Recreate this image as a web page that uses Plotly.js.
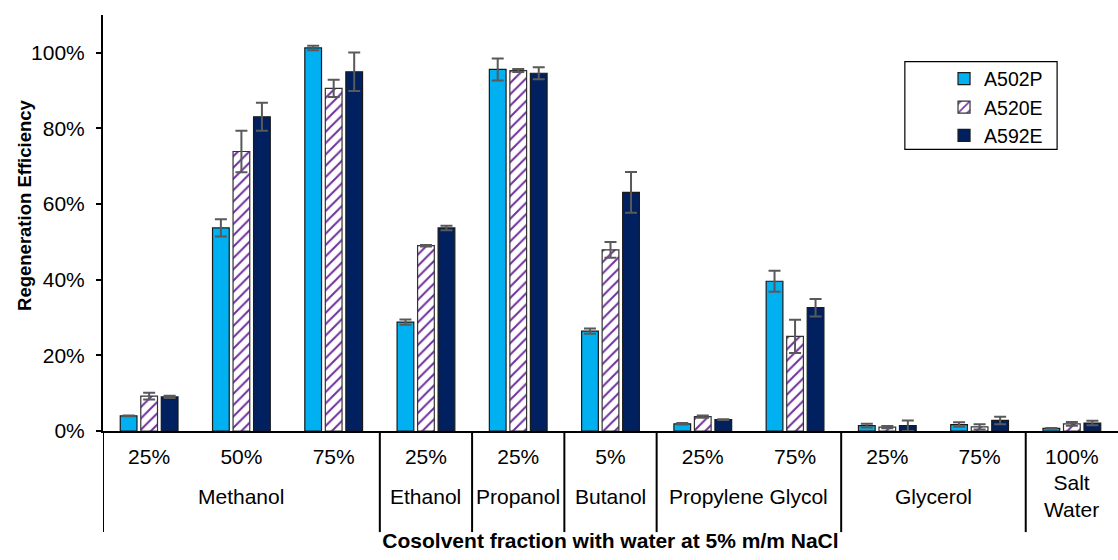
<!DOCTYPE html>
<html>
<head>
<meta charset="utf-8">
<script src="https://cdn.plot.ly/plotly-3.0.1.min.js"></script>
<style>
  html, body { margin: 0; padding: 0; background: #fff; }
  #chart { width: 1118px; height: 560px; }
</style>
</head>
<body>
<div id="chart"></div>
<script>
// Cosolvent and its fraction for each category on the x axis
const solvent = ['Methanol', 'Methanol', 'Methanol', 'Ethanol', 'Propanol', 'Butanol',
                 'Propylene Glycol', 'Propylene Glycol', 'Glycerol', 'Glycerol', 'Salt Water'];
const fraction = ['25%', '50%', '75%', '25%', '25%', '5%', '25%', '75%', '25%', '75%', '100%'];

// Regeneration efficiency (%) and error bar half-widths per resin
const seriesNames = ['A502P', 'A520E', 'A592E'];
const A502P     = [4.0, 53.7, 101.3, 28.8, 95.6, 26.4, 1.9, 39.6, 1.4, 1.7, 0.7];
const A502P_err = [0.1, 2.3, 0.6, 0.7, 2.9, 0.7, 0.2, 2.8, 0.5, 0.6, 0.1];
const A520E     = [9.2, 73.9, 90.6, 49.0, 95.3, 47.9, 3.8, 25.0, 1.0, 1.1, 1.9];
const A520E_err = [0.9, 5.5, 2.3, 0.2, 0.4, 2.1, 0.3, 4.4, 0.3, 0.7, 0.5];
const A592E     = [9.0, 83.1, 95.0, 53.7, 94.6, 63.1, 3.0, 32.6, 1.4, 2.8, 2.1];
const A592E_err = [0.3, 3.7, 5.1, 0.6, 1.6, 5.4, 0.1, 2.3, 1.4, 1.0, 0.6];

const yTitle = 'Regeneration Efficiency';
const xTitle = 'Cosolvent fraction with water at 5% m/m NaCl';

const FONT = 'Liberation Sans, Arial, sans-serif';
const keys = solvent.map((s, i) => s + ' ' + fraction[i]);

const errStyle = arr => ({
  type: 'data', array: arr, visible: true,
  color: '#595959', thickness: 2, width: 6
});
const outline = { color: '#1a1a1a', width: 1.2 };

const traces = [
  {
    type: 'bar', name: seriesNames[0], x: keys, y: A502P, legendgroup: 'a',
    marker: { color: '#00B0F0', line: outline },
    error_y: errStyle(A502P_err)
  },
  {
    type: 'bar', name: seriesNames[1], x: keys, y: A520E, legendgroup: 'b',
    marker: {
      color: '#ffffff', line: { color: '#333333', width: 1.2 },
      pattern: { shape: '/', fgcolor: '#7030A0', bgcolor: '#ffffff', size: 8, solidity: 0.25 }
    },
    error_y: errStyle(A520E_err)
  },
  {
    type: 'bar', name: seriesNames[2], x: keys, y: A592E, legendgroup: 'c',
    marker: { color: '#002060', line: outline },
    error_y: errStyle(A592E_err)
  }
];

// Group labels under the fractions, and divider lines between groups
const annotations = [];
const shapes = [];
let start = 0;
for (let i = 1; i <= solvent.length; i++) {
  if (i === solvent.length || solvent[i] !== solvent[start]) {
    const label = solvent[start] === 'Salt Water' ? 'Salt<br>Water' : solvent[start];
    annotations.push({
      xref: 'x', yref: 'paper', x: (start + i - 1) / 2, y: -0.157,
      xanchor: 'center', yanchor: 'middle', showarrow: false,
      text: label, font: { family: FONT, size: 21, color: '#000' }
    });
    shapes.push({
      type: 'line', xref: 'x', yref: 'paper', x0: start - 0.5, x1: start - 0.5,
      y0: 0, y1: -0.243, line: { color: '#000', width: 2 }
    });
    start = i;
  }
}
// Value-axis title, set beside the tick labels
annotations.push({
  xref: 'paper', yref: 'paper', x: -0.078, y: 0.543, textangle: -90,
  xanchor: 'center', yanchor: 'middle', showarrow: false,
  text: yTitle, font: { family: FONT, size: 18.5, color: '#000', weight: 'bold' }
});
// Legend frame
shapes.push({
  type: 'rect', xref: 'paper', yref: 'paper', x0: 0.790, x1: 0.940, y0: 0.677, y1: 0.888,
  line: { color: '#000', width: 1.2 }, fillcolor: 'rgba(0,0,0,0)'
});

const layout = {
  width: 1118, height: 560,
  margin: { l: 103, r: 0, t: 15, b: 129, pad: 0 },
  paper_bgcolor: '#fff', plot_bgcolor: '#fff',
  font: { family: FONT, size: 21, color: '#000' },
  barmode: 'group', bargap: 0.333, bargroupgap: 0.185,
  showlegend: true,
  legend: {
    x: 0.8286, y: 0.893, xanchor: 'left', yanchor: 'top',
    bgcolor: 'rgba(0,0,0,0)', borderwidth: 0,
    traceorder: 'grouped', tracegroupgap: 0,
    font: { family: FONT, size: 19.5, color: '#000' }
  },
  xaxis: {
    type: 'category', range: [-0.5, solvent.length - 0.5],
    tickmode: 'array', tickvals: keys, ticktext: fraction,
    ticks: '', showline: true, linecolor: '#000', linewidth: 2,
    showgrid: false, zeroline: false, ticklabelstandoff: 6,
    tickfont: { family: FONT, size: 21, color: '#000' },
    title: {
      text: xTitle,
      font: { family: FONT, size: 21, color: '#000', weight: 'bold' },
      standoff: 66
    },
    automargin: false
  },
  yaxis: {
    range: [0, 110], tick0: 0, dtick: 20, ticksuffix: '%',
    ticks: 'outside', ticklen: 5, tickwidth: 2, tickcolor: '#000',
    showline: true, linecolor: '#000', linewidth: 2,
    showgrid: false, zeroline: false, ticklabelstandoff: 7,
    tickfont: { family: FONT, size: 21, color: '#000' },
    automargin: false
  },
  // Inside ticks every 5%, drawn on an overlaid copy of the value axis
  yaxis2: {
    overlaying: 'y', side: 'left', range: [0, 110], tick0: 0, dtick: 5,
    ticks: 'inside', ticklen: 5, tickwidth: 1.5, tickcolor: '#000',
    showticklabels: false, showline: false, showgrid: false, zeroline: false
  },
  annotations: annotations,
  shapes: shapes
};

Plotly.newPlot('chart', traces, layout, { displayModeBar: false, staticPlot: true });
</script>
</body>
</html>
